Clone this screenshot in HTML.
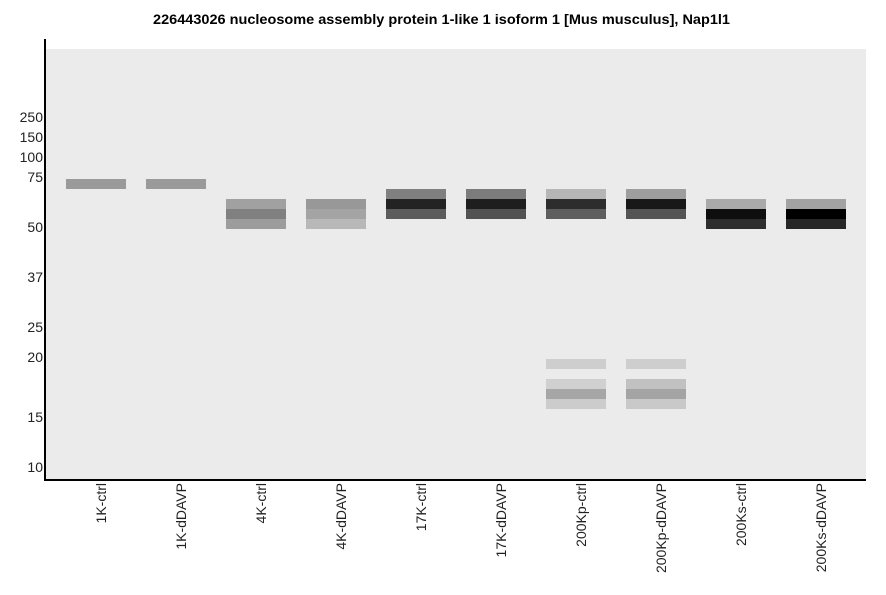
<!DOCTYPE html>
<html><head><meta charset="utf-8"><style>
html,body{margin:0;padding:0;background:#fff;}
svg{display:block;}
text{font-family:"Liberation Sans",Arial,sans-serif;}
</style></head><body>
<svg width="886" height="595" viewBox="0 0 886 595" xmlns="http://www.w3.org/2000/svg">
<rect x="0" y="0" width="886" height="595" fill="#fff"/>
<text x="441.5" y="24" text-anchor="middle" font-size="14" font-weight="bold" fill="#000" textLength="577" lengthAdjust="spacingAndGlyphs">226443026 nucleosome assembly protein 1-like 1 isoform 1 [Mus musculus], Nap1l1</text>
<rect x="46" y="49" width="820" height="430" fill="#ebebeb"/>
<!-- bands -->
<g shape-rendering="crispEdges">
<rect x="66" y="179" width="60" height="10" fill="#9a9a9a"/>
<rect x="146" y="179" width="60" height="10" fill="#9a9a9a"/>

<rect x="226" y="199" width="60" height="10" fill="#a1a1a1"/>
<rect x="226" y="209" width="60" height="10" fill="#808080"/>
<rect x="226" y="219" width="60" height="10" fill="#9c9c9c"/>

<rect x="306" y="199" width="60" height="10" fill="#989898"/>
<rect x="306" y="209" width="60" height="10" fill="#a4a4a4"/>
<rect x="306" y="219" width="60" height="10" fill="#b8b8b8"/>

<rect x="386" y="189" width="60" height="10" fill="#808080"/>
<rect x="386" y="199" width="60" height="10" fill="#232323"/>
<rect x="386" y="209" width="60" height="10" fill="#5c5c5c"/>

<rect x="466" y="189" width="60" height="10" fill="#7c7c7c"/>
<rect x="466" y="199" width="60" height="10" fill="#1e1e1e"/>
<rect x="466" y="209" width="60" height="10" fill="#525252"/>

<rect x="546" y="189" width="60" height="10" fill="#b6b6b6"/>
<rect x="546" y="199" width="60" height="10" fill="#2c2d2c"/>
<rect x="546" y="209" width="60" height="10" fill="#5e5e5e"/>

<rect x="626" y="189" width="60" height="10" fill="#9e9e9e"/>
<rect x="626" y="199" width="60" height="10" fill="#181818"/>
<rect x="626" y="209" width="60" height="10" fill="#535453"/>

<rect x="706" y="199" width="60" height="10" fill="#a9aaa9"/>
<rect x="706" y="209" width="60" height="10" fill="#0e0e0e"/>
<rect x="706" y="219" width="60" height="10" fill="#2e2e2e"/>

<rect x="786" y="199" width="60" height="10" fill="#a2a2a2"/>
<rect x="786" y="209" width="60" height="10" fill="#000000"/>
<rect x="786" y="219" width="60" height="10" fill="#262726"/>

<rect x="546" y="359" width="60" height="10" fill="#cecece"/>
<rect x="546" y="379" width="60" height="10" fill="#cfd0cf"/>
<rect x="546" y="389" width="60" height="10" fill="#a5a6a5"/>
<rect x="546" y="399" width="60" height="10" fill="#cbcccb"/>

<rect x="626" y="359" width="60" height="10" fill="#cecece"/>
<rect x="626" y="379" width="60" height="10" fill="#c0c1c0"/>
<rect x="626" y="389" width="60" height="10" fill="#a3a4a3"/>
<rect x="626" y="399" width="60" height="10" fill="#c8c9c8"/>

<!-- axes -->
<rect x="44" y="39" width="2" height="442" fill="#000"/>
<rect x="44" y="479" width="822" height="2" fill="#000"/>
</g>
<!-- y tick labels -->
<g font-size="14" fill="#222" text-anchor="end">
<text x="43" y="122">250</text>
<text x="43" y="142">150</text>
<text x="43" y="162">100</text>
<text x="43" y="182">75</text>
<text x="43" y="232">50</text>
<text x="43" y="282">37</text>
<text x="43" y="332">25</text>
<text x="43" y="362">20</text>
<text x="43" y="422">15</text>
<text x="43" y="472">10</text>
</g>
<!-- x labels -->
<g font-size="14" fill="#222" text-anchor="end">
<text transform="translate(106,483) rotate(-90)">1K-ctrl</text>
<text transform="translate(186,483) rotate(-90)">1K-dDAVP</text>
<text transform="translate(266,483) rotate(-90)">4K-ctrl</text>
<text transform="translate(346,483) rotate(-90)">4K-dDAVP</text>
<text transform="translate(426,483) rotate(-90)">17K-ctrl</text>
<text transform="translate(506,483) rotate(-90)">17K-dDAVP</text>
<text transform="translate(586,483) rotate(-90)">200Kp-ctrl</text>
<text transform="translate(666,483) rotate(-90)">200Kp-dDAVP</text>
<text transform="translate(746,483) rotate(-90)">200Ks-ctrl</text>
<text transform="translate(826,483) rotate(-90)">200Ks-dDAVP</text>
</g>
</svg>
</body></html>
